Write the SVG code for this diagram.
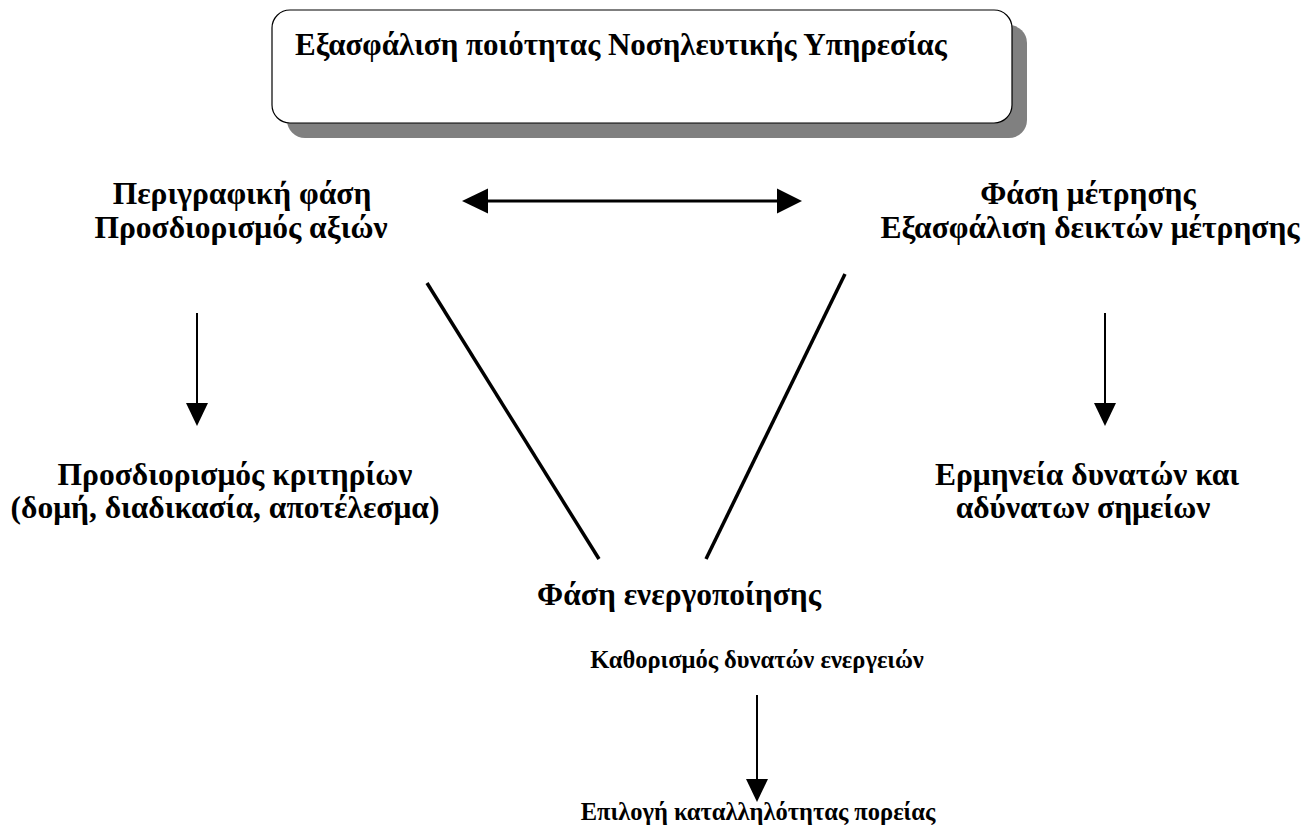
<svg xmlns="http://www.w3.org/2000/svg" width="1306" height="832" viewBox="0 0 1306 832">
<defs>
<style>
text{font-family:'Liberation Serif','DejaVu Serif',serif;font-weight:700;fill:#000;text-anchor:middle}
.title{font-size:31px}
.big{font-size:31.5px}
.small{font-size:24.5px}
.ln{stroke:#000;fill:none}
</style>
</defs>
<rect width="1306" height="832" fill="#fff"/>
<g id="title">
<rect x="287" y="25" width="740" height="113" rx="18" fill="#808080"/>
<rect x="272" y="10" width="740" height="113" rx="18" fill="#fff" stroke="#000" stroke-width="1.2"/>
<text class="title" x="621" y="55">Εξασφάλιση ποιότητας Νοσηλευτικής Υπηρεσίας</text>
</g>
<g id="descriptive">
<text class="big" x="242" y="204">Περιγραφική φάση</text>
<text class="big" x="241" y="238">Προσδιορισμός αξιών</text>
</g>
<g id="measurement">
<text class="big" x="1088" y="204">Φάση μέτρησης</text>
<text class="big" x="1090" y="238">Εξασφάλιση δεικτών μέτρησης</text>
</g>
<g id="criteria">
<text class="big" x="235" y="485">Προσδιορισμός κριτηρίων</text>
<text class="big" x="225" y="518">(δομή, διαδικασία, αποτέλεσμα)</text>
</g>
<g id="interpretation">
<text class="big" x="1087" y="485">Ερμηνεία δυνατών και</text>
<text class="big" x="1083" y="518">αδύνατων σημείων</text>
</g>
<g id="activation">
<text class="big" x="679" y="605">Φάση ενεργοποίησης</text>
</g>
<g id="actions">
<text class="small" x="757" y="668">Καθορισμός δυνατών ενεργειών</text>
</g>
<g id="choice">
<text class="small" x="758" y="820">Επιλογή καταλληλότητας πορείας</text>
</g>
<g id="connectors">
<line class="ln" x1="488" y1="201" x2="777" y2="201" stroke-width="3.2"/>
<path d="M462,201 L488,188.5 L488,213.5 Z" fill="#000"/>
<path d="M802,201 L777,188.5 L777,213.5 Z" fill="#000"/>
<line class="ln" x1="197" y1="313" x2="197" y2="404" stroke-width="2"/>
<path d="M197,426 L186,403 L208,403 Z" fill="#000"/>
<line class="ln" x1="1105" y1="313" x2="1105" y2="404" stroke-width="2"/>
<path d="M1105,426 L1094,403 L1116,403 Z" fill="#000"/>
<line class="ln" x1="757" y1="695" x2="757" y2="780" stroke-width="2"/>
<path d="M757,802 L746,779 L768,779 Z" fill="#000"/>
<line class="ln" x1="427" y1="283" x2="599" y2="559" stroke-width="3.5"/>
<line class="ln" x1="845" y1="274" x2="706" y2="559" stroke-width="3.5"/>
</g>
</svg>
